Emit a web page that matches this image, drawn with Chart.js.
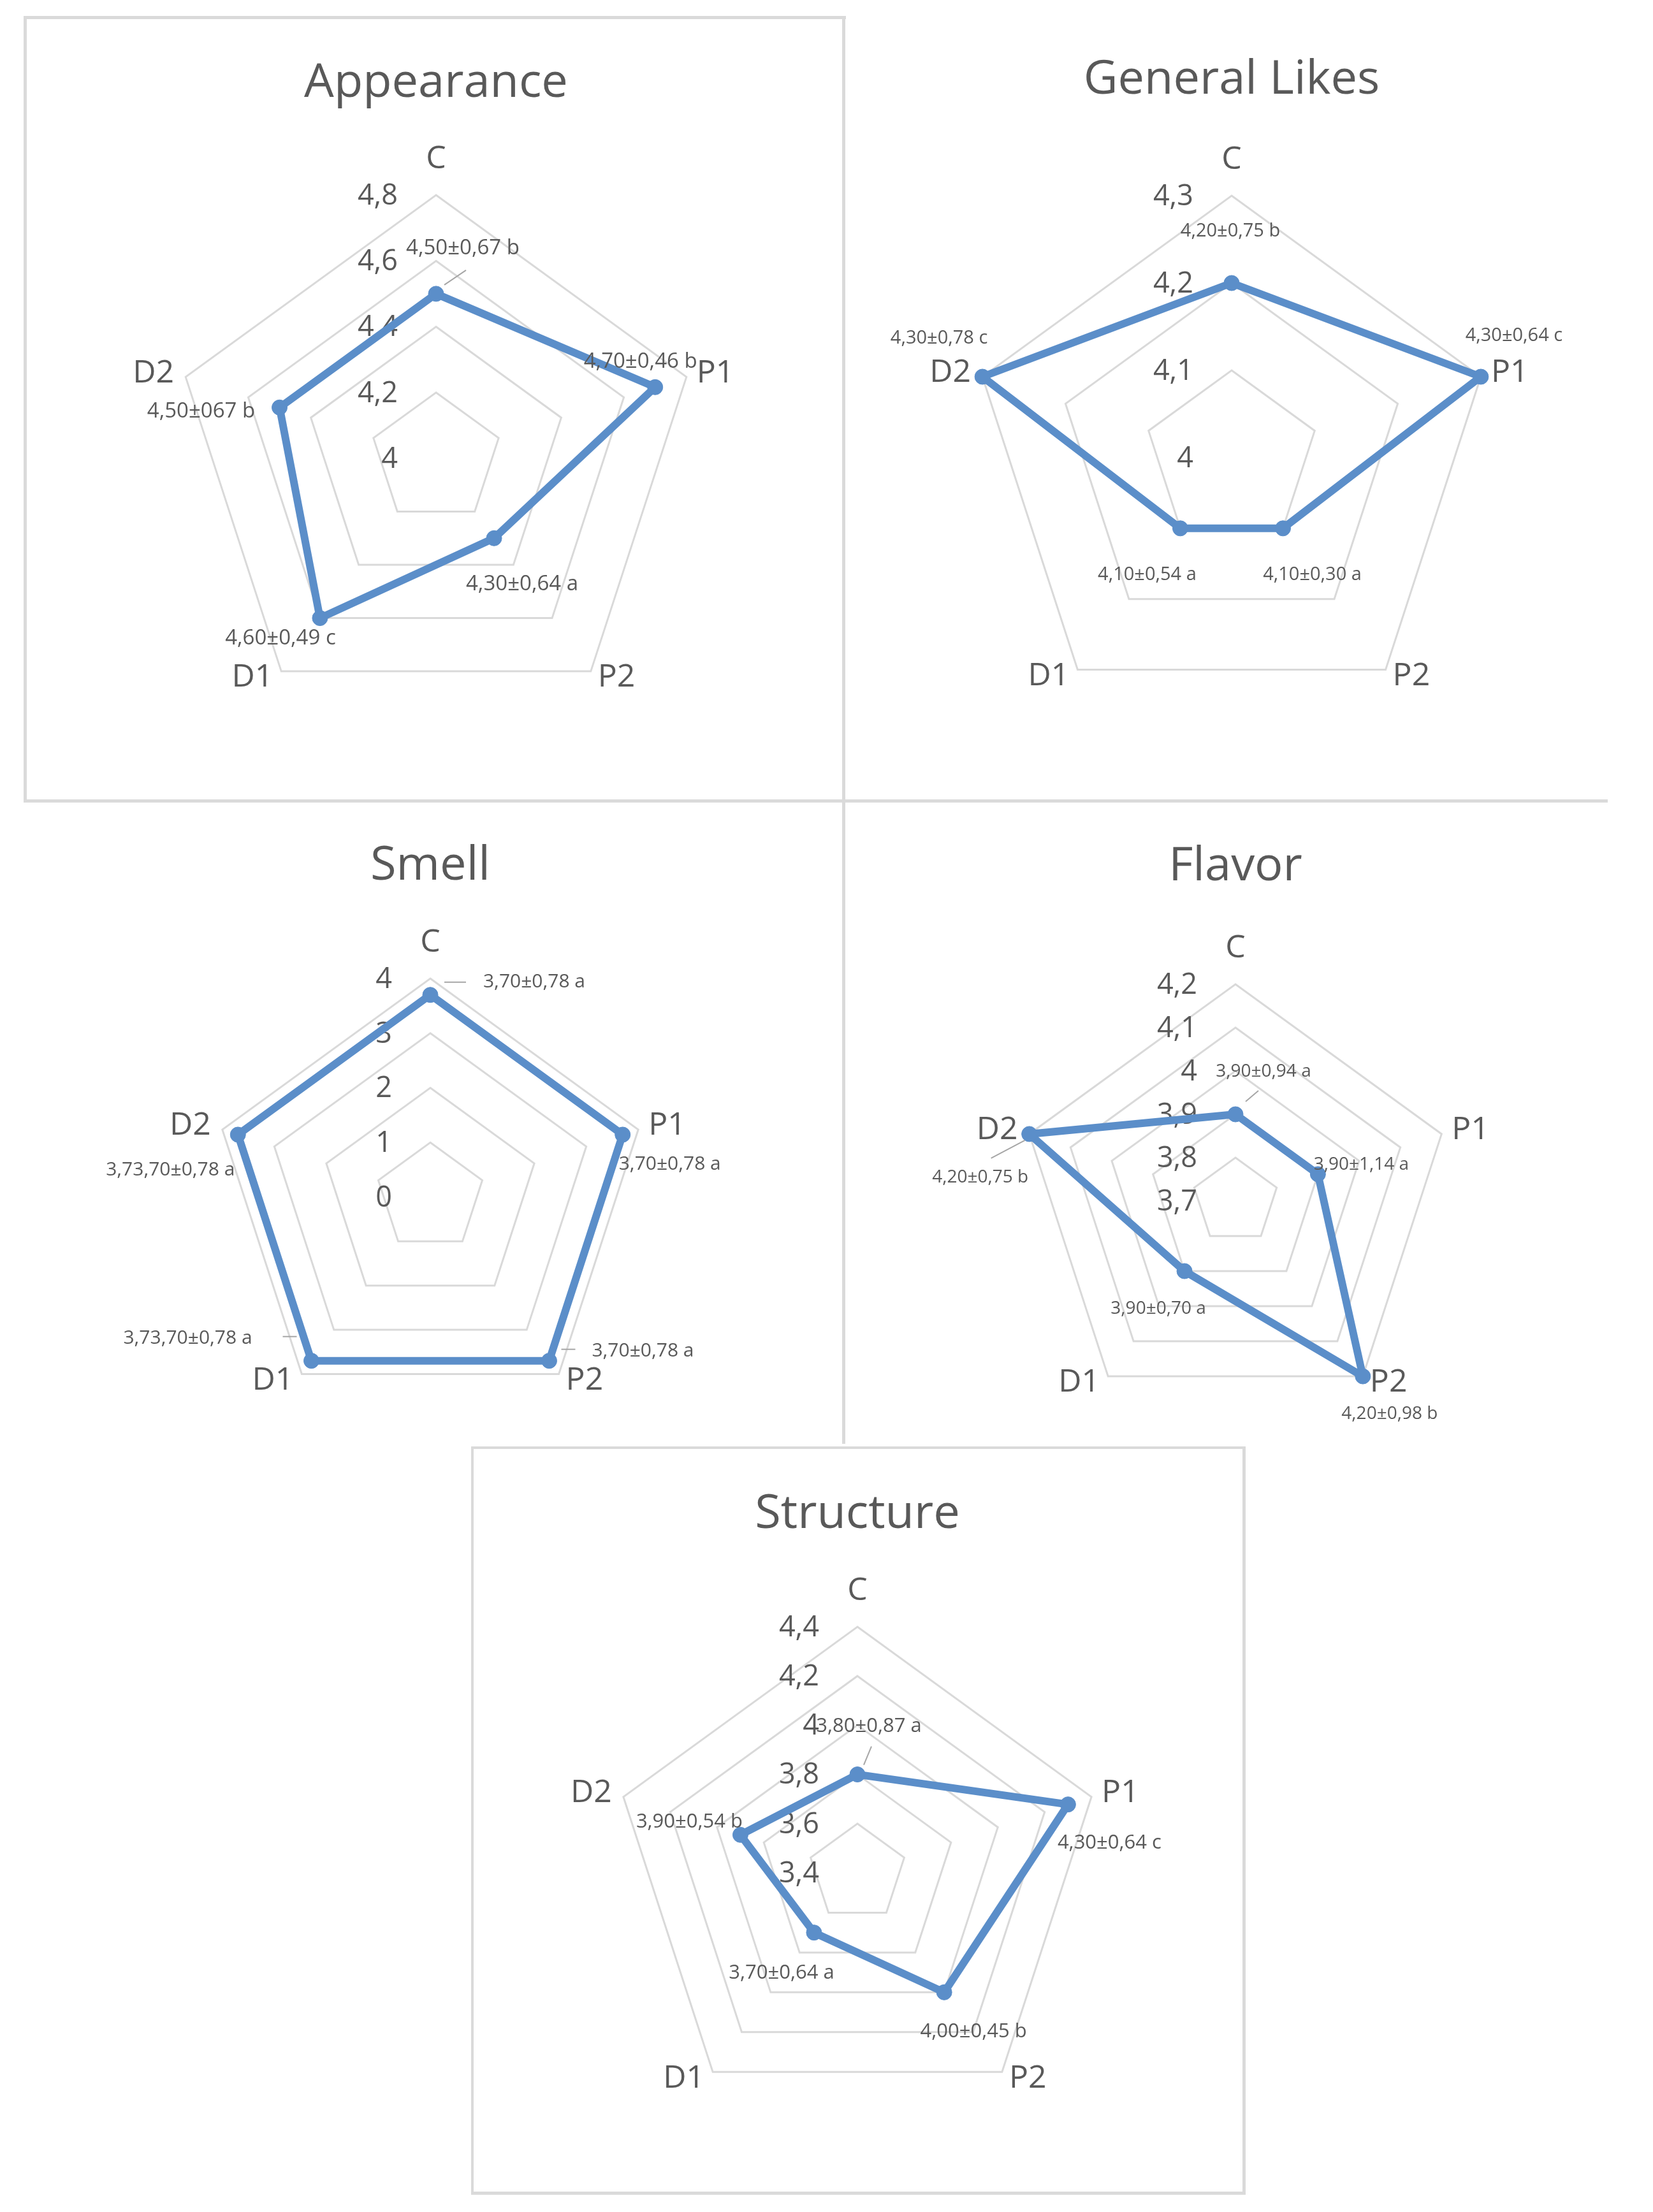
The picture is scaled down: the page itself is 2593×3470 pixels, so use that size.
<!DOCTYPE html>
<html>
<head>
<meta charset="utf-8">
<script src="https://cdn.jsdelivr.net/npm/chart.js@4.4.1/dist/chart.umd.min.js"></script>
<style>
  html, body { margin: 0; padding: 0; background: #ffffff; }
  body { width: 2593px; height: 3470px; position: relative; overflow: hidden; font-family: 'Open Sans', sans-serif; }
  .ln { position: absolute; background: #dadada; }
  .chart { position: absolute; }
</style>
</head>
<body>
<!-- frame lines -->
<div class="ln" style="left:37px;top:25px;width:1290px;height:5px;"></div>
<div class="ln" style="left:37px;top:25px;width:5px;height:1234px;"></div>
<div class="ln" style="left:1321px;top:25px;width:5px;height:2240px;"></div>
<div class="ln" style="left:37px;top:1254px;width:2485px;height:5px;"></div>
<div class="ln" style="left:739px;top:2269px;width:1215px;height:4px;"></div>
<div class="ln" style="left:739px;top:2269px;width:4px;height:1174px;"></div>
<div class="ln" style="left:1949px;top:2269px;width:5px;height:1174px;"></div>
<div class="ln" style="left:739px;top:3438px;width:1215px;height:5px;"></div>

<div class="chart" id="c1"><canvas id="cv1"></canvas></div>
<div class="chart" id="c2"><canvas id="cv2"></canvas></div>
<div class="chart" id="c3"><canvas id="cv3"></canvas></div>
<div class="chart" id="c4"><canvas id="cv4"></canvas></div>
<div class="chart" id="c5"><canvas id="cv5"></canvas></div>

<script>
// ---------- DATA ----------
const categories = ['C', 'P1', 'P2', 'D1', 'D2'];

const appearanceValues = [4.5, 4.7, 4.3, 4.6, 4.5];
const appearanceLabels = ['4,50±0,67 b', '4,70±0,46 b', '4,30±0,64 a', '4,60±0,49 c', '4,50±067 b'];
const appearanceTicks  = ['4', '4,2', '4,4', '4,6', '4,8'];

const generalValues = [4.2, 4.3, 4.1, 4.1, 4.3];
const generalLabels = ['4,20±0,75 b', '4,30±0,64 c', '4,10±0,30 a', '4,10±0,54 a', '4,30±0,78 c'];
const generalTicks  = ['4', '4,1', '4,2', '4,3'];

const smellValues = [3.7, 3.7, 3.7, 3.7, 3.7];
const smellLabels = ['3,70±0,78 a', '3,70±0,78 a', '3,70±0,78 a', '3,73,70±0,78 a', '3,73,70±0,78 a'];
const smellTicks  = ['0', '1', '2', '3', '4'];

const flavorValues = [3.9, 3.9, 4.2, 3.9, 4.2];
const flavorLabels = ['3,90±0,94 a', '3,90±1,14 a', '4,20±0,98 b', '3,90±0,70 a', '4,20±0,75 b'];
const flavorTicks  = ['3,7', '3,8', '3,9', '4', '4,1', '4,2'];

const structureValues = [3.8, 4.3, 4.0, 3.7, 3.9];
const structureLabels = ['3,80±0,87 a', '4,30±0,64 c', '4,00±0,45 b', '3,70±0,64 a', '3,90±0,54 b'];
const structureTicks  = ['3,4', '3,6', '3,8', '4', '4,2', '4,4'];

// ---------- STYLE / LAYOUT ----------
const BLUE = '#5b8ec9';
const TEXT = '#595959';
const FONT = "'Open Sans', sans-serif";

const specs = [
  { id: 'c1', cv: 'cv1', title: 'Appearance', values: appearanceValues, labels: appearanceLabels, ticks: appearanceTicks,
    min: 4, max: 4.8, step: 0.2,
    box: [42, 30, 1321, 1254], cx: 684, cy: 719, R: 413, titleY: 131, dataFont: 33,
    offs: [[42, -71], [-23, -40], [44, 72], [-62, 32], [-123, 6]],
    leaders: [[0, 13, -14, 47, -37]] },
  { id: 'c2', cv: 'cv2', title: 'General Likes', values: generalValues, labels: generalLabels, ticks: generalTicks,
    min: 4, max: 4.3, step: 0.1,
    box: [1326, 30, 2522, 1254], cx: 1932, cy: 718, R: 411, titleY: 126, dataFont: 29,
    offs: [[-2, -81], [52, -64], [46, 73], [-52, 73], [-68, -60]],
    leaders: [] },
  { id: 'c3', cv: 'cv3', title: 'Smell', values: smellValues, labels: smellLabels, ticks: smellTicks,
    min: 0, max: 4, step: 1,
    box: [42, 1259, 1321, 2269], cx: 675, cy: 1878, R: 343, titleY: 1359, dataFont: 30,
    offs: [[163, -20], [74, 46], [147, -15], [-194, -35], [-106, 55]],
    leaders: [[0, 22, -20, 56, -20], [2, 19, -18, 41, -18], [3, -45, -38, -23, -38]] },
  { id: 'c4', cv: 'cv4', title: 'Flavor', values: flavorValues, labels: flavorLabels, ticks: flavorTicks,
    min: 3.7, max: 4.2, step: 0.1,
    box: [1326, 1259, 2522, 2269], cx: 1938, cy: 1884, R: 340, titleY: 1360, dataFont: 28,
    offs: [[44, -67], [68, -15], [42, 59], [-41, 59], [-77, 68]],
    leaders: [[0, 16, -20, 36, -37], [4, -7, 10, -60, 38]] },
  { id: 'c5', cv: 'cv5', title: 'Structure', values: structureValues, labels: structureLabels, ticks: structureTicks,
    min: 3.4, max: 4.4, step: 0.2,
    box: [743, 2273, 1949, 3438], cx: 1345, cy: 2938, R: 386, titleY: 2376, dataFont: 31,
    offs: [[18, -75], [65, 61], [46, 62], [-51, 63], [-80, -20]],
    leaders: [[0, 10, -15, 22, -44]] }
];

// point-label placement relative to outer vertex: [dx, dy, align]
const pointLabelPlace = [[0, -56, 'center'], [16, -6, 'left'], [11, 10, 'left'], [-13, 10, 'right'], [-18, -6, 'right']];

const TITLE_SIZE = 74;

const radarText = {
  id: 'radarText',
  beforeDatasetsDraw(chart) {
    const scale = chart.scales.r;
    const ctx = chart.ctx;
    ctx.save();
    ctx.fillStyle = TEXT;
    ctx.font = '45px ' + FONT;
    ctx.textAlign = 'right';
    ctx.textBaseline = 'middle';
    scale.ticks.forEach((t) => {
      const d = scale.getDistanceFromCenterForValue(t.value);
      ctx.fillText(t.label, scale.xCenter - 60, scale.yCenter - d + 2);
    });
    ctx.restore();
  },
  afterDatasetsDraw(chart) {
    const s = chart.$spec;
    const scale = chart.scales.r;
    const ctx = chart.ctx;
    const meta = chart.getDatasetMeta(0);
    ctx.save();
    // leader lines
    ctx.strokeStyle = '#a6a6a6';
    ctx.lineWidth = 2;
    s.leaders.forEach((ld) => {
      const pt = meta.data[ld[0]];
      ctx.beginPath();
      ctx.moveTo(pt.x + ld[1], pt.y + ld[2]);
      ctx.lineTo(pt.x + ld[3], pt.y + ld[4]);
      ctx.stroke();
    });
    ctx.textBaseline = 'middle';
    // data labels
    ctx.fillStyle = '#595959';
    ctx.font = s.dataFont + 'px ' + FONT;
    ctx.textAlign = 'center';
    meta.data.forEach((pt, i) => {
      const o = s.offs[i];
      ctx.fillText(s.labels[i], pt.x + o[0], pt.y + o[1]);
    });
    // category labels
    ctx.font = '50px ' + FONT;
    ctx.fillStyle = TEXT;
    chart.data.labels.forEach((lab, i) => {
      const p = scale.getPointPosition(i, scale.drawingArea);
      const pl = pointLabelPlace[i];
      ctx.textAlign = pl[2];
      ctx.fillText(lab, p.x + pl[0], p.y + pl[1]);
    });
    ctx.restore();
  }
};

specs.forEach((s) => {
  const div = document.getElementById(s.id);
  const [l, t, r, b] = s.box;
  div.style.left = l + 'px';
  div.style.top = t + 'px';
  div.style.width = (r - l) + 'px';
  div.style.height = (b - t) + 'px';
  const padTop = s.titleY - TITLE_SIZE / 2 - t;
  const padBottom = (s.cy - s.R) - (s.titleY + TITLE_SIZE / 2);
  new Chart(document.getElementById(s.cv), {
    type: 'radar',
    data: {
      labels: categories,
      datasets: [{
        data: s.values,
        borderColor: BLUE,
        backgroundColor: BLUE,
        fill: false,
        borderWidth: 12,
        pointRadius: 12,
        pointBackgroundColor: BLUE,
        pointBorderColor: BLUE,
        pointBorderWidth: 1,
        tension: 0,
        borderJoinStyle: 'round'
      }]
    },
    options: {
      responsive: true,
      maintainAspectRatio: false,
      animation: false,
      devicePixelRatio: 1,
      layout: { padding: { left: s.cx - s.R - l, right: r - (s.cx + s.R), top: 0, bottom: b - (s.cy + s.R) } },
      plugins: {
        legend: { display: false },
        tooltip: { enabled: false },
        title: {
          display: true, text: s.title, color: TEXT,
          font: { family: FONT, size: TITLE_SIZE, weight: 'normal', lineHeight: 1 },
          padding: { top: padTop, bottom: padBottom }
        }
      },
      scales: {
        r: {
          min: s.min, max: s.max,
          ticks: { stepSize: s.step, display: false, callback: (v, i) => s.ticks[i] },
          grid: { color: '#d9d9d9', lineWidth: 3, circular: false },
          angleLines: { display: false },
          pointLabels: { display: false }
        }
      }
    },
    plugins: [{ id: 'spec', beforeInit(c) { c.$spec = s; } }, radarText]
  });
});
</script>
</body>
</html>
